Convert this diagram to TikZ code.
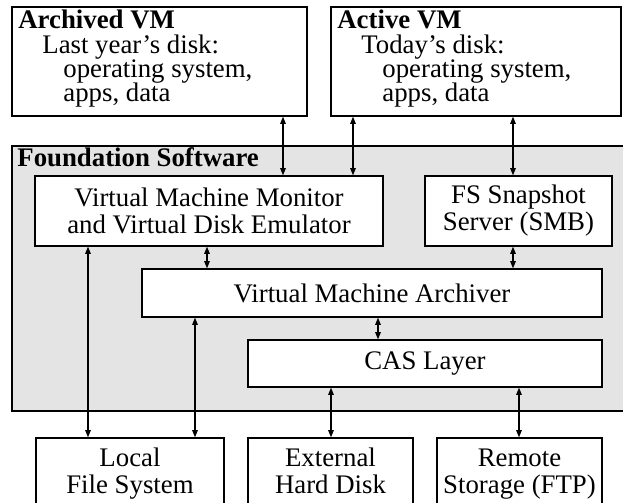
\documentclass[tikz,border=0pt]{standalone}
\usepackage{fontspec}
\setmainfont{Liberation Serif}
\usetikzlibrary{arrows.meta, positioning}
\definecolor{fsgray}{HTML}{E4E4E4}
\newcommand\tightlines{\lineskiplimit=-6pt\relax}
\tikzset{
  block/.style = {rectangle, draw, fill=white, line width=0.7pt, text centered, align=center, inner sep=0pt,
                  font=\fontsize{13.4}{13.5}\selectfont},
  storage/.style = {block, text depth=3pt, minimum height=36pt},
  vmblock/.style = {rectangle, draw, fill=white, line width=0.7pt, minimum height=54.5pt},
  vmtext/.style = {anchor=base west, inner sep=0pt, align=left,
                   font=\fontsize{13.4}{12}\selectfont\tightlines},
  layer/.style = {rectangle, draw, fill=fsgray, line width=0.7pt},
  line/.style = {draw, {Triangle[length=3.6pt,width=2.8pt]}-{Triangle[length=3.6pt,width=2.8pt]}, line width=0.6pt}
}

\begin{document}
\begin{tikzpicture}[x=0.5pt, y=-0.5pt]
    \clip (0,0) rectangle (623,503);

    % Virtual machines
    \node[vmblock, minimum width=147.5pt] (archived) at (159.5,61.5) {};
    \node[vmtext] (archivedtext) at (18,101)
      {\textbf{Archived VM}\\\hspace*{12pt}Last year's disk:\\\hspace*{22.5pt}operating system,\\\hspace*{22.5pt}apps, data};
    \node[vmblock, minimum width=145pt] (active) at (476,61.5) {};
    \node[vmtext] (activetext) at (337,101)
      {\textbf{Active VM}\\\hspace*{12pt}Today's disk:\\\hspace*{22.5pt}operating system,\\\hspace*{22.5pt}apps, data};

    % Foundation Software
    \node[layer, minimum width=306.5pt, minimum height=132.5pt] (found) at (318.5,278.5) {};
    \node[anchor=base west, inner sep=0pt, font=\fontsize{13.4}{13.5}\selectfont\bfseries] (foundlabel) at (17,167) {Foundation Software};
    \node[block, minimum width=174pt, minimum height=35pt] (vmm) at (209,211) {Virtual Machine Monitor\\and Virtual Disk Emulator};
    \node[block, minimum width=93.5pt, minimum height=35pt] (fss) at (518.5,211) {FS Snapshot\\Server (SMB)};
    \node[block, minimum width=230pt, minimum height=24pt] (archiver) at (372,293) {Virtual Machine Archiver};
    \node[block, minimum width=177pt, minimum height=23.5pt] (cas) at (425,363.5) {CAS Layer};

    % Storage
    \node[storage, minimum width=94pt] (localfs) at (130,474) {Local\\File System};
    \node[storage, minimum width=82.5pt] (extdisk) at (330.5,474) {External\\Hard Disk};
    \node[storage, minimum width=82.5pt] (remote) at (519.5,474) {Remote\\Storage (FTP)};

    % Lanes
    \coordinate (lA) at (283,0);
    \coordinate (lB) at (353,0);
    \coordinate (lC) at (513,0);
    \coordinate (lD) at (207,0);
    \coordinate (lE) at (378,0);
    \coordinate (lF) at (88,0);
    \coordinate (lG) at (195,0);
    \coordinate (lH) at (331,0);
    \coordinate (lI) at (519,0);

    % Arrows
    \path [line] (archived.south -| lA) -- (vmm.north -| lA);
    \path [line] (active.south -| lB) -- (vmm.north -| lB);
    \path [line] (active.south -| lC) -- (fss.north -| lC);
    \path [line] (vmm.south -| lD) -- (archiver.north -| lD);
    \path [line] (fss.south -| lC) -- (archiver.north -| lC);
    \path [line] (archiver.south -| lE) -- (cas.north -| lE);
    \path [line] (vmm.south -| lF) -- (localfs.north -| lF);
    \path [line] (archiver.south -| lG) -- (localfs.north -| lG);
    \path [line] (cas.south -| lH) -- (extdisk.north -| lH);
    \path [line] (cas.south -| lI) -- (remote.north -| lI);

\end{tikzpicture}
\end{document}
